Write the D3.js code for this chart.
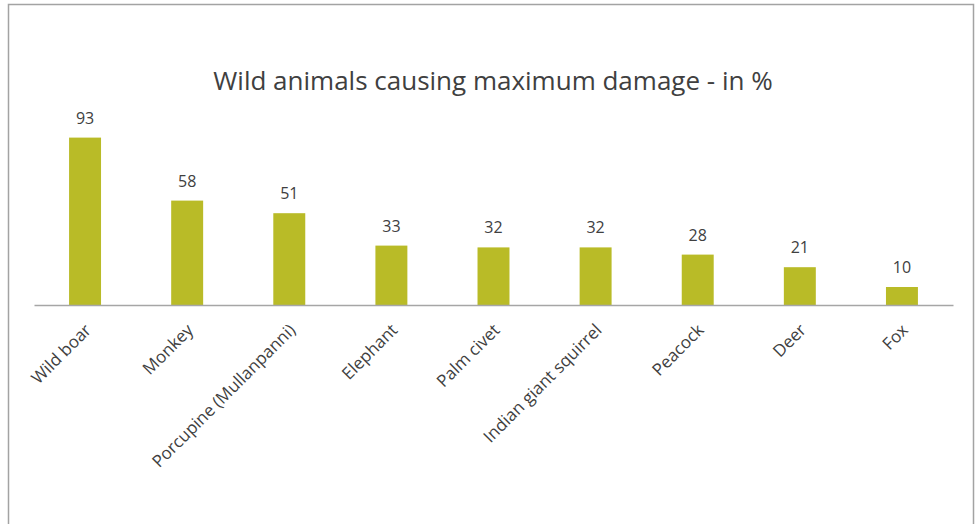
<!DOCTYPE html>
<html>
<head>
<meta charset="utf-8">
<script src="https://cdn.jsdelivr.net/npm/d3@7"></script>
<style>
  html, body { margin: 0; padding: 0; background: #fff; }
  svg { display: block; font-family: "Open Sans", sans-serif; }
</style>
</head>
<body>
<svg id="chart" width="978" height="524"></svg>
<script>
// Share of respondents naming each animal as causing the most damage (%)
const animals = ["Wild boar", "Monkey", "Porcupine (Mullanpanni)", "Elephant", "Palm civet",
                 "Indian giant squirrel", "Peacock", "Deer", "Fox"];
const damagePct = [93, 58, 51, 33, 32, 32, 28, 21, 10];
const chartTitle = "Wild animals causing maximum damage - in %";

const svg = d3.select("#chart");
const W = 978, H = 524;

// outer frame (open at the bottom edge of the view)
svg.append("path")
  .attr("d", `M8.5,${H + 2} V4.5 H973.5 V${H + 2}`)
  .attr("fill", "none")
  .attr("stroke", "#a3a3a3")
  .attr("stroke-width", 1.5);

const plot = { left: 34, right: 953, base: 305, top: 125 };

const x = d3.scaleBand()
  .domain(animals)
  .range([plot.left, plot.right])
  .paddingInner(0.687)
  .paddingOuter(0.3435);

const y = d3.scaleLinear()
  .domain([0, 100])
  .range([plot.base, plot.top]);

const data = animals.map((a, i) => ({ animal: a, value: damagePct[i] }));

// title
svg.append("text")
  .attr("x", 493)
  .attr("y", 90)
  .attr("text-anchor", "middle")
  .attr("font-size", 26)
  .attr("fill", "#404040")
  .text(chartTitle);

// bars
svg.append("g")
  .selectAll("rect")
  .data(data)
  .join("rect")
  .attr("x", d => x(d.animal))
  .attr("width", x.bandwidth())
  .attr("y", d => y(d.value))
  .attr("height", d => y(0) - y(d.value))
  .attr("fill", "#b9bb27");

// value labels
svg.append("g")
  .selectAll("text")
  .data(data)
  .join("text")
  .attr("x", d => x(d.animal) + x.bandwidth() / 2)
  .attr("y", d => y(d.value) - 14)
  .attr("text-anchor", "middle")
  .attr("font-size", 16)
  .attr("fill", "#404040")
  .text(d => d.value);

// category axis
const axis = d3.axisBottom(x).tickSize(0).tickPadding(0);
const gx = svg.append("g")
  .attr("transform", `translate(0,${plot.base})`)
  .call(axis);
gx.select(".domain")
  .attr("stroke", "#a6a6a6")
  .attr("stroke-width", 1.5);
gx.selectAll(".tick text")
  .attr("font-family", "'Open Sans', sans-serif")
  .attr("font-size", 17)
  .attr("fill", "#404040")
  .attr("text-anchor", "end")
  .attr("dy", "0.35em")
  .attr("transform", "translate(3,22) rotate(-45)");
</script>
</body>
</html>
